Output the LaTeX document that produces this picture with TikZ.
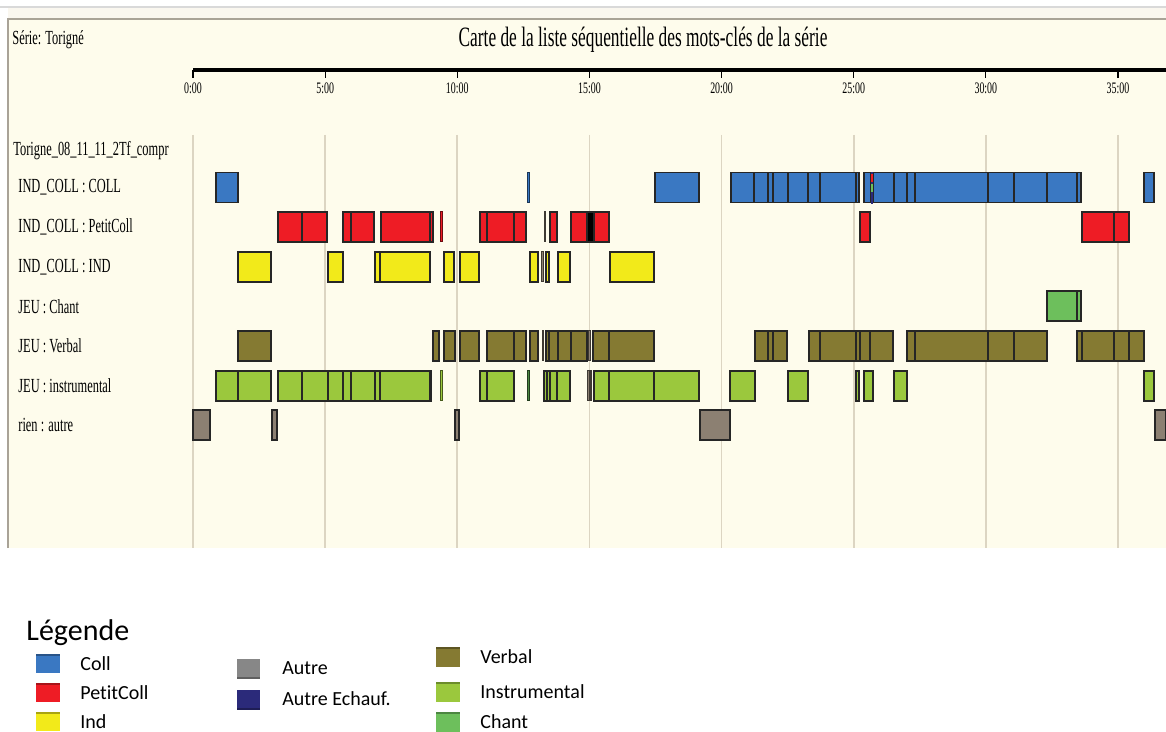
\documentclass[tikz,border=0pt]{standalone}
\usepackage{fontspec}
\setmainfont{Liberation Serif}
\newfontfamily\legendfont{Carlito}[Ligatures={NoCommon,NoContextual}]
\usepackage{graphicx}
\newcommand\narrow[1]{\scalebox{0.62}[1]{#1}}

\definecolor{cream}{HTML}{FEFCEC}
\definecolor{stripcol}{HTML}{FAF7EF}
\definecolor{framecol}{HTML}{A9A397}
\definecolor{gridcol}{HTML}{DCD5C2}
\definecolor{collblue}{HTML}{3A78C2}
\definecolor{petitred}{HTML}{EE1C25}
\definecolor{indyellow}{HTML}{F2EA1A}
\definecolor{verbalolive}{HTML}{857A32}
\definecolor{instgreen}{HTML}{9BC83D}
\definecolor{chantgreen}{HTML}{6DBF5C}
\definecolor{autregrey}{HTML}{8C8072}
\definecolor{leggrey}{HTML}{878787}
\definecolor{echaufnavy}{HTML}{2B2A7A}

\begin{document}
\begin{tikzpicture}[x=0.5pt,y=-0.5pt,
  seg/.style={draw=black!85,line width=0.9pt,fill=#1},
  thinseg/.style={draw=#1!45!black,line width=0.5pt,fill=#1},
  rowlab/.style={anchor=west,inner sep=0pt,font=\fontsize{10}{12}\selectfont},
  ticklab/.style={inner sep=0pt,font=\fontsize{8}{10}\selectfont},
  gridline/.style={draw=gridcol,line width=0.8pt},
  swatch/.style={fill=#1},
  leglab/.style={anchor=west,inner sep=0pt,font=\legendfont\fontsize{10}{12}\selectfont}]

\useasboundingbox (0,0) rectangle (1166,732);

% panel
\fill[stripcol] (8,7) rectangle (1166,19);
\draw[black!15,line width=0.6pt] (0,7) -- (1166,7);
\fill[cream] (8,19) rectangle (1166,548);
\draw[framecol,line width=0.9pt] (8,548) -- (8,19) -- (1166,19);

% header
\node[rowlab] (serie) at (12,40) {\narrow{Série: Torigné}};
\node[inner sep=0pt,font=\fontsize{14}{16}\selectfont] (title) at (643,40)
  {\narrow{Carte de la liste séquentielle des mots-clés de la série}};

% time axis
\draw[line width=2.2pt] (193,70) -- (1166,70);
\foreach \m [count=\i from 0] in {0,5,...,35} {
  \draw[line width=0.6pt] ({193+\i*132.14},70) -- ({193+\i*132.14},78);
  \node[ticklab] (t\m) at ({193+\i*132.14},88) {\narrow{\m:00}};
  \draw[gridline] ({193+\i*132.14},135) -- ({193+\i*132.14},548);
}

% row labels
\node[rowlab] (session) at (13,150.5) {\narrow{Torigne\_08\_11\_11\_2Tf\_compr}};
\node[rowlab] (lcoll) at (18,187.5) {\narrow{IND\_COLL : COLL}};
\node[rowlab] (lpetit) at (18,227) {\narrow{IND\_COLL : PetitColl}};
\node[rowlab] (lind) at (18,267) {\narrow{IND\_COLL : IND}};
\node[rowlab] (lchant) at (18,306.5) {\narrow{JEU : Chant}};
\node[rowlab] (lverbal) at (18,346) {\narrow{JEU : Verbal}};
\node[rowlab] (linst) at (18,386) {\narrow{JEU : instrumental}};
\node[rowlab] (lautre) at (18,425.5) {\narrow{rien : autre}};

% IND_COLL : COLL
\foreach \a/\b in {216/238,655/699.3,730.7/754.3,754.3/768.3,768.3/773.3,
  773.3/787.7,787.7/808.3,808.3/819.7,819.7/855.7,855.7/859.3,864.3/871,873/894,
  894/906.7,906.7/915.3,915.3/987.7,987.7/1014,1014/1046.7,1046.7/1076.7,
  1076.7/1080.7,1144.3/1154}
  \draw[seg=collblue] (\a,172.5) rectangle (\b,202.5);
\draw[thinseg=collblue] (527.3,172.5) rectangle (529.5,202.5);
\fill[echaufnavy] (870.6,172.5) rectangle (873.2,204);
\fill[petitred] (871.2,174.5) rectangle (872.6,182.5);
\fill[chantgreen] (871.2,184.5) rectangle (872.6,192.5);

% IND_COLL : PetitColl
\foreach \a/\b in {277.7/301.7,301.7/327.3,343.3/351,351/374.3,380.7/430,430/432.7,
  479.7/487.3,487.3/514.3,514.3/526.3,549.7/556.7,571/586.7,594/609,
  860.3/869.7,1082/1114.3,1114.3/1128.7}
  \draw[seg=petitred] (\a,212) rectangle (\b,242);
\draw[thinseg=petitred] (440,212) rectangle (442.7,242);
\draw[thinseg=autregrey] (544,212) rectangle (545.7,242);
\draw[seg=black] (586.7,212) rectangle (594,242);

% IND_COLL : IND
\foreach \a/\b in {238.3/271.3,328.3/342.7,375.3/380,380/429.7,444/454.3,459.7/478.7,
  530/537.7,545.7/549,558.3/570.3,610/654}
  \draw[seg=indyellow] (\a,251.7) rectangle (\b,281.7);
\draw[thinseg=autregrey] (541.7,251.7) rectangle (543.7,281.7);

% JEU : Chant
\foreach \a/\b in {1047/1076.7,1076.7/1080.7}
  \draw[seg=chantgreen] (\a,291.3) rectangle (\b,321.3);

% JEU : Verbal
\foreach \a/\b in {238.3/271.3,433.3/438.7,444/455,459.7/478.7,487.3/514.3,514.3/526.3,
  530/537.7,545.7/549.3,549.3/557.7,557.7/571,571/586.7,593.3/609.3,609.3/654,
  755.3/768.3,768.3/773.3,773.3/787.3,809/819.7,819.7/855.7,855.7/859.7,859.7/870.3,
  870.3/893.3,907.3/915.3,915.3/987.7,987.7/1014,1014/1046.7,1077/1081.7,
  1081.7/1114,1114/1129.3,1129.3/1143.7}
  \draw[seg=verbalolive] (\a,330.7) rectangle (\b,360.7);
\foreach \a/\b in {542/543.7,588/590.5}
  \draw[thinseg=autregrey] (\a,330.7) rectangle (\b,360.7);

% JEU : instrumental
\foreach \a/\b in {215.7/238.3,238.3/271.3,277.7/301.7,301.7/327.7,327.7/343.3,
  343.3/351.3,351.3/375,375/380,380/429.7,429.7/431,479.7/487.3,
  487.3/514.3,544.3/546.7,546.7/549.7,549.7/557,557/570.3,594/609,609/654.3,
  654.3/699.3,730.3/754.7,788.3/807.7,855.7/859.3,864.3/872.7,894/906.7,1144.3/1154}
  \draw[seg=instgreen] (\a,370.7) rectangle (\b,400.7);
\draw[thinseg=instgreen] (440,370.7) rectangle (442.7,400.7);
\draw[thinseg=chantgreen!70!black] (527.7,370.7) rectangle (529.3,400.7);
\foreach \a/\b in {587.3/589,590/591.7}
  \draw[thinseg=autregrey] (\a,370.7) rectangle (\b,400.7);

% rien : autre
\foreach \a/\b in {192.7/210.3,272/276.7,455/458.7,700/730,1155/1166}
  \draw[seg=autregrey] (\a,410) rectangle (\b,440);

% legend
\node[anchor=west,inner sep=0pt,font=\legendfont\fontsize{15}{18}\selectfont] (legende) at (26,633) {Légende};
\foreach \y/\c/\t [count=\k] in {655/collblue/Coll,684/petitred/PetitColl,713/indyellow/Ind} {
  \fill[swatch=\c] (36,\y) rectangle (60,\y+18);
  \draw[\c!70!black,line width=0.7pt] (36,\y) -- (60,\y);
  \node[leglab] (lega\k) at (80,\y+9) {\t};
}
\foreach \y/\c/\t [count=\k] in {659/leggrey/Autre,690/echaufnavy/Autre Echauf.} {
  \fill[swatch=\c] (237,\y) rectangle (260,\y+19);
  \draw[\c!70!black,line width=0.7pt] (237,\y+19) -- (260,\y+19);
  \node[leglab] (legb\k) at (282,\y+9) {\t};
}
\foreach \y/\c/\t [count=\k] in {648/verbalolive/Verbal,683/instgreen/Instrumental,713/chantgreen/Chant} {
  \fill[swatch=\c] (436,\y) rectangle (460,\y+19);
  \draw[\c!70!black,line width=0.7pt] (436,\y) -- (460,\y);
  \node[leglab] (legc\k) at (480,\y+9) {\t};
}

\end{tikzpicture}
\end{document}
